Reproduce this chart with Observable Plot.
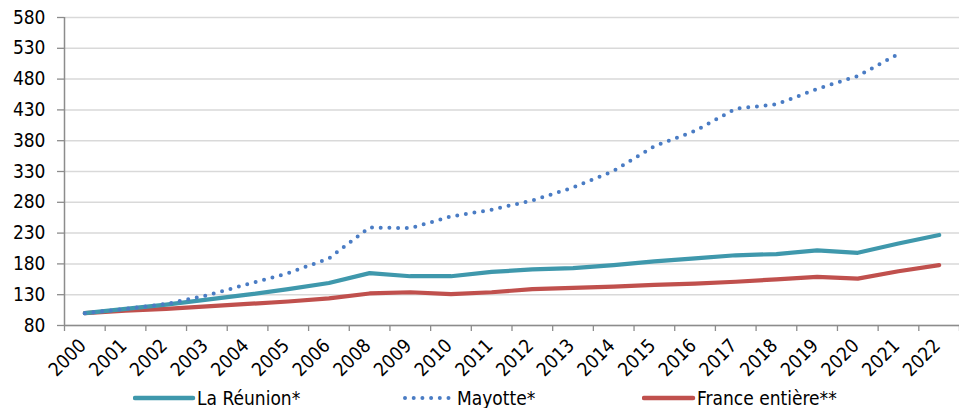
<!DOCTYPE html>
<html>
<head>
<meta charset="utf-8">
<script src="https://cdn.jsdelivr.net/npm/d3@7"></script>
<script src="https://cdn.jsdelivr.net/npm/@observablehq/plot@0.6"></script>
<style>
  body { margin: 0; background: #fff; font-family: "DejaVu Sans Condensed", "DejaVu Sans", sans-serif; }
  #chart svg { overflow: visible; display: block; }
  #legend { position: relative; height: 24px; width: 959px; font-size: 19px; line-height: 20px; color: #000; }
  #legend .item { position: absolute; top: 4px; height: 20px; display: flex; align-items: center; }
  #legend .item span { line-height: 20px; }
</style>
</head>
<body>
<div id="chart"></div>
<div id="legend"></div>
<script>
const years = ["2000","2001","2002","2003","2004","2005","2006","2008","2009","2010","2011","2012","2013","2014","2015","2016","2017","2018","2019","2020","2021","2022"];
const reunion = [100,107,114,122,130,139,149,165,160,160,167,171,173,178,184,189,194,196,202,198,213,227];
const mayotte = [100,107,115,129,147,165,189,239,238,257,268,283,304,331,371,396,432,439,464,485,521,null];
const france = [100,104,107,111,115,119,124,132,134,131,134,139,141,143,146,148,151,155,159,156,168,178];
const yTicks = [80,130,180,230,280,330,380,430,480,530,580];
const seriesNames = ["La Réunion*", "Mayotte*", "France entière**"];

const colors = {teal: "#3f98ac", red: "#c0504d", blue: "#4a7cc4", axis: "#8c8c8c", grid: "#d9d9d9"};

const rows = (vals) => vals.map((v, i) => ({i, v})).filter(d => d.v != null);
const idx = years.map((_, i) => i);
const bounds = d3.range(-0.5, years.length, 1);

const plot = Plot.plot({
  width: 959,
  height: 384,
  marginLeft: 64,
  marginRight: 0,
  marginTop: 17,
  marginBottom: 59,
  style: {fontFamily: '"DejaVu Sans Condensed", "DejaVu Sans", sans-serif', fontSize: "19px", color: "#000", background: "#fff", overflow: "visible"},
  x: {type: "linear", domain: [-0.5, years.length - 0.5]},
  y: {domain: [80, 580]},
  marks: [
    Plot.gridY(yTicks, {stroke: colors.grid, strokeOpacity: 1, strokeWidth: 1.5}),
    Plot.axisY(yTicks, {tickSize: 7, tickPadding: 12, stroke: colors.axis, strokeWidth: 1.3, label: null, fill: "#000"}),
    Plot.ruleX([-0.5], {stroke: colors.axis, strokeWidth: 1.5}),
    Plot.ruleY([80], {stroke: colors.axis, strokeWidth: 1.5}),
    Plot.axisX(bounds, {tickSize: 6, tickFormat: () => "", stroke: colors.axis, strokeWidth: 1.3, label: null}),
    Plot.axisX(idx, {tickSize: 0, tickRotate: -45, tickPadding: 17, dx: -2, tickFormat: i => years[i], label: null, fill: "#000"}),
    Plot.line(rows(france), {x: "i", y: "v", stroke: colors.red, strokeWidth: 4.2, strokeLinecap: "round", strokeLinejoin: "round"}),
    Plot.line(rows(reunion), {x: "i", y: "v", stroke: colors.teal, strokeWidth: 4.2, strokeLinecap: "round", strokeLinejoin: "round"}),
    Plot.line(rows(mayotte), {x: "i", y: "v", stroke: colors.blue, strokeWidth: 4, strokeLinecap: "round", strokeDasharray: "0 8.7"})
  ]
});
document.getElementById("chart").appendChild(plot);

const legendItems = [
  {name: seriesNames[0], color: colors.teal, dash: null, left: 133, w: 60},
  {name: seriesNames[1], color: colors.blue, dash: "0 8.7", left: 403, w: 50},
  {name: seriesNames[2], color: colors.red, dash: null, left: 642, w: 51}
];
const legend = document.getElementById("legend");
for (const it of legendItems) {
  const div = document.createElement("div");
  div.className = "item";
  div.style.left = it.left + "px";
  const svg = d3.create("svg").attr("width", it.w + 4).attr("height", 10);
  svg.append("line").attr("x1", 2).attr("x2", it.w).attr("y1", 5).attr("y2", 5)
    .attr("stroke", it.color).attr("stroke-width", it.dash ? 4 : 4.5)
    .attr("stroke-linecap", "round")
    .attr("stroke-dasharray", it.dash);
  div.appendChild(svg.node());
  const span = document.createElement("span");
  span.textContent = it.name;
  div.appendChild(span);
  legend.appendChild(div);
}
</script>
</body>
</html>
